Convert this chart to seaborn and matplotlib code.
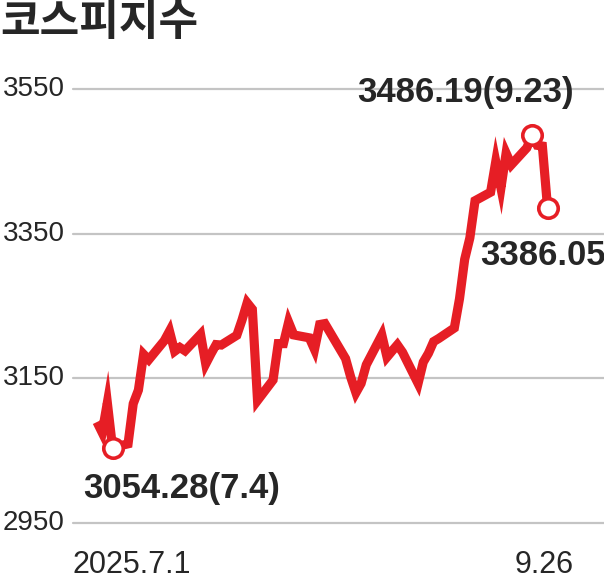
import pandas as pd
import matplotlib
matplotlib.use("Agg")
import matplotlib.pyplot as plt
import matplotlib.transforms as mtransforms
import seaborn as sns

# KOSPI closing values, 2025.7.1 - 9.26
dates = [
    "2025-07-01", "2025-07-02", "2025-07-03", "2025-07-04", "2025-07-07", "2025-07-08",
    "2025-07-09", "2025-07-10", "2025-07-11", "2025-07-14", "2025-07-15", "2025-07-16",
    "2025-07-17", "2025-07-18", "2025-07-21", "2025-07-22", "2025-07-23", "2025-07-24",
    "2025-07-25", "2025-07-28", "2025-07-29", "2025-07-30", "2025-07-31",
    "2025-08-01", "2025-08-04", "2025-08-05", "2025-08-06", "2025-08-07", "2025-08-08",
    "2025-08-11", "2025-08-12", "2025-08-13", "2025-08-14", "2025-08-18", "2025-08-19",
    "2025-08-20", "2025-08-21", "2025-08-22", "2025-08-25", "2025-08-26", "2025-08-27",
    "2025-08-28", "2025-08-29",
    "2025-09-01", "2025-09-02", "2025-09-03", "2025-09-04", "2025-09-05", "2025-09-08",
    "2025-09-09", "2025-09-10", "2025-09-11", "2025-09-12", "2025-09-15", "2025-09-16",
    "2025-09-17", "2025-09-18", "2025-09-19", "2025-09-22", "2025-09-23", "2025-09-24",
    "2025-09-25", "2025-09-26",
]
values = [
    3089.65, 3075.06, 3116.27, 3054.28, 3059.47, 3114.95,
    3133.74, 3183.23, 3175.77, 3202.03, 3215.28, 3187.42,
    3192.76, 3188.07, 3210.81, 3169.94, 3183.77, 3196.65,
    3196.05, 3209.52, 3230.57, 3254.47, 3245.44,
    3119.41, 3147.75, 3198.00, 3198.00, 3227.68, 3210.01,
    3206.00, 3189.91, 3224.37, 3225.66, 3177.28, 3151.56,
    3130.09, 3142.93, 3168.73, 3209.86, 3179.36, 3187.95,
    3196.32, 3186.01,
    3142.93, 3172.35, 3184.60, 3200.83, 3205.12, 3219.59,
    3260.05, 3314.53, 3344.20, 3395.54, 3407.31, 3449.62,
    3413.26, 3461.30, 3445.24, 3468.65, 3486.19, 3472.14,
    3471.11, 3386.05,
]
y_ticks = [2950, 3150, 3350, 3550]
title = "코스피지수"
x_left_label = "2025.7.1"
x_right_label = "9.26"
marked = [("2025-07-04", "3054.28(7.4)"),
          ("2025-09-23", "3486.19(9.23)"),
          ("2025-09-26", "3386.05")]

df = pd.DataFrame({"date": pd.to_datetime(dates), "kospi": values})

sns.set_style("white")
num_font = ["Liberation Sans", "DejaVu Sans"]
plt.rcParams["font.family"] = num_font

RED = "#e61e25"

fig = plt.figure(figsize=(6.04, 5.79), dpi=100)
ax = fig.add_axes([73 / 604, 56 / 579, 531 / 604, 434 / 579])

sns.lineplot(data=df, x="date", y="kospi", ax=ax, color=RED, linewidth=6.6,
             solid_joinstyle="miter", solid_capstyle="butt", zorder=3)

# circle markers
for d, _ in marked:
    v = df.loc[df["date"] == pd.Timestamp(d), "kospi"].iloc[0]
    ax.plot(pd.Timestamp(d), v, "o", ms=14, mfc="white", mec=RED, mew=2.6,
            zorder=4, clip_on=False)

start = pd.Timestamp(dates[0])
ax.set_xlim(start - pd.Timedelta(days=4.63), start + pd.Timedelta(days=97.9))
ax.set_ylim(y_ticks[0], y_ticks[-1])
ax.set_yticks(y_ticks)
ax.set_yticklabels([str(t) for t in y_ticks], fontsize=20)
ax.set_xticks([])
ax.set_xlabel("")
ax.set_ylabel("")
ax.tick_params(axis="y", length=0, pad=6)
for lab in ax.get_yticklabels():
    lab.set_transform(lab.get_transform() +
                      mtransforms.ScaledTranslation(0, 3 / 100, fig.dpi_scale_trans))
for s in ax.spines.values():
    s.set_visible(False)
for t in y_ticks:
    ax.axhline(t, color="#c4c4c4", lw=1.6, zorder=1, clip_on=False)

# x labels
ax.annotate(x_left_label, xy=(0, 0), xycoords="axes fraction",
            xytext=(0, -50), textcoords="offset pixels",
            ha="left", va="baseline", fontsize=22)
ax.annotate(x_right_label, xy=(pd.Timestamp(dates[-1]), 0),
            xycoords=("data", "axes fraction"),
            xytext=(-3, -50), textcoords="offset pixels",
            ha="center", va="baseline", fontsize=22)

# value labels
offsets = [(69, -41), (-66, 43), (-5, -48)]
sizes = [25, 25, 25]
for (d, txt), off, fs in zip(marked, offsets, sizes):
    v = df.loc[df["date"] == pd.Timestamp(d), "kospi"].iloc[0]
    ax.annotate(txt, xy=(pd.Timestamp(d), v), xytext=off, textcoords="offset pixels",
                ha="center", va="center", fontsize=fs, fontweight="bold",
                annotation_clip=False)

fig.text(0.0, 1.0, title, ha="left", va="top", fontsize=31, fontweight="heavy",
         family=["Noto Sans CJK KR", "DejaVu Sans"])

fig.savefig("out.png", dpi=100)
